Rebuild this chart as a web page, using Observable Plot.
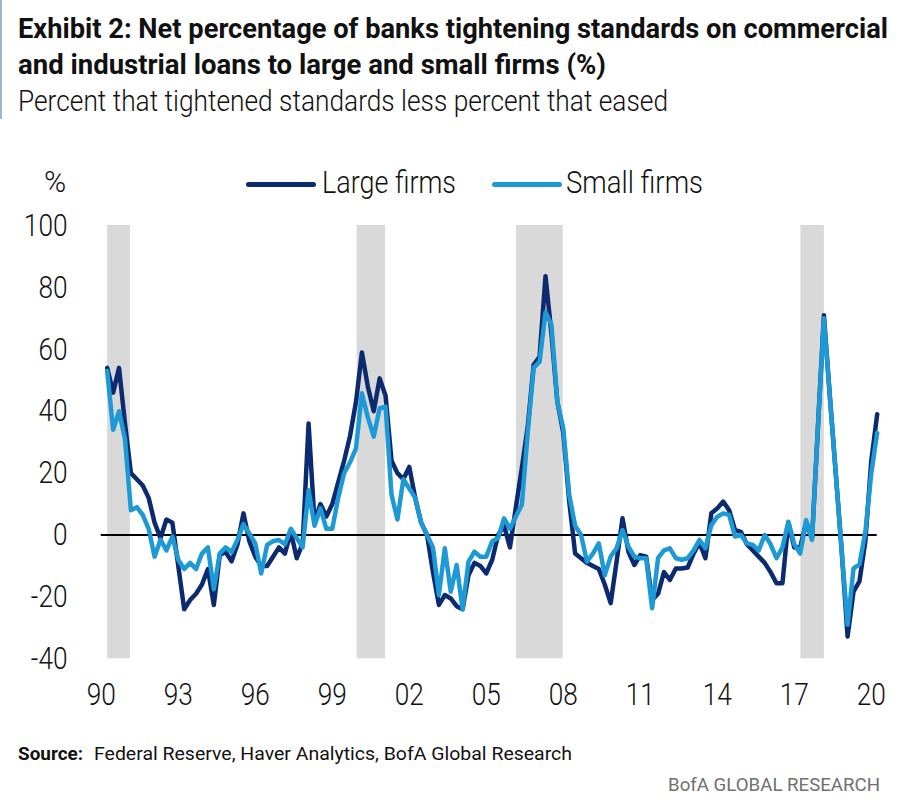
<!DOCTYPE html>
<html><head><meta charset="utf-8">
<script src="https://cdn.jsdelivr.net/npm/d3@7"></script>
<script src="https://cdn.jsdelivr.net/npm/@observablehq/plot@0.6"></script>
<style>
body{margin:0;background:#fff;width:906px;height:810px;position:relative;overflow:hidden;font-family:Roboto,"Liberation Sans",sans-serif;color:#111}
.t{position:absolute;white-space:nowrap;line-height:1;transform-origin:0 0}
#bar{position:absolute;left:0;top:0;width:2px;height:119px;background:#9fb3cf}
.lg{position:absolute;height:5px;border-radius:2.5px}
#chart{position:absolute;left:0;top:205px}
</style></head><body>
<div id="bar"></div>
<div class="t" data-w="870" style="left:18px;top:15px;font-size:28px;font-weight:700">Exhibit 2: Net percentage of banks tightening standards on commercial</div>
<div class="t" data-w="588" style="left:18px;top:51px;font-size:28px;font-weight:700">and industrial loans to large and small firms (%)</div>
<div class="t" data-w="650" style="left:18px;top:86px;font-size:30px;font-weight:300">Percent that tightened standards less percent that eased</div>
<div class="t" style="left:44px;top:167px;font-size:30px;font-weight:300">%</div>
<div class="lg" style="left:246px;top:182px;width:70px;background:#0c2a6f"></div>
<div class="t" data-w="134" style="left:322px;top:166px;font-size:32px;font-weight:300">Large firms</div>
<div class="lg" style="left:492px;top:182px;width:70px;background:#1d9ad6"></div>
<div class="t" data-w="137" style="left:566px;top:166px;font-size:32px;font-weight:300">Small firms</div>
<div id="chart"></div>
<div class="t" data-w="65" style="left:18px;top:744px;font-size:19px;font-weight:700">Source:</div>
<div class="t" data-w="478" style="left:94px;top:744px;font-size:19px;font-weight:400">Federal Reserve, Haver Analytics, BofA Global Research</div>
<div class="t" data-w="212" style="left:668px;top:775px;font-size:19px;font-weight:400;color:#707070">BofA GLOBAL RESEARCH</div>
<script>
// Quarterly data, 1990Q2 .. 2022Q4 (net % of banks tightening C&I standards)
const startQuarter = 1990.25;
const large = [54,46,54,36,20,18,16,12,4,-1,5,4,-10,-24,-21,-19,-16,-11,-22.6,-6.5,
-5.5,-8.5,-3,7,-2,-7,-10,-10,-7,-4,-6,1,-7.5,-2.7,36,4.3,10,6,10,17,
24,32,43,59,48,40,50.6,45,24,20,18,22,12,4,0,-12,-22.6,-19.4,-20.5,-23,
-24,-13,-9,-10,-12.4,-8,0,3,-4,9,21.5,35,55,57.6,83.6,65,43,33,11,-6,
-7.5,-9,-10,-11,-16,-22,-8.6,5.4,-5.4,-9.7,-6.5,-7,-21,-19,-12,-14.5,-10.8,-10.8,-10.5,-6,
-2.5,-7.5,7,8.6,10.8,8,1.6,1,-3,-5,-7,-9,-12,-15.6,-15.6,4,-4,-4,4,-1,
35,71,45,20,-5,-32.8,-18.3,-15,-2,24,39];
const small = [53,34,40,31,8,9,6.5,2,-7,-1.5,-5,-0.5,-8,-11,-9,-11,-6,-4,-17.5,-6,
-4,-5.5,-1.5,3.5,0.5,-2.7,-12.4,-3.2,-2,-1.6,-3,2,-1,-4,14.5,3,8.6,2,2,12,
20,23.5,28,45.8,38,31.8,41,41.5,13,5,18,15,12,4,0,-4,-19.4,-4.3,-18.3,-9.7,
-24,-8.6,-5.4,-7,-7,-2,-1,5.4,2,6,9.7,33,54,56,72,68,43,34.5,13,3,
0,-8.6,-6,-2.7,-13,-7,-4.3,1.6,-3.8,-7,-7.5,-7.5,-23.7,-7.5,-5,-4.3,-7.5,-8,-7.5,-5,
-1.6,-4.3,3.2,5.9,7,6.5,-0.5,0,-2.7,-3.2,-5,0,-3,-7.5,-4,4.3,-3,-6,4.8,-1.6,
35,70,45,20,-5,-29,-10.8,-9.5,1,20,33];
const recessionStart = [1990.27, 2000.8, 2007.53, 2019.53];
const recessionEnd   = [1991.23, 2002.0, 2009.5, 2020.52];
// category-style axis: a label every 13 quarters, starting at 1990Q1
const xTicks = [1990, 1993.25, 1996.5, 1999.75, 2003, 2006.25, 2009.5, 2012.75, 2016, 2019.25, 2022.5];
const xTickLabels = ["90","93","96","99","02","05","08","11","14","17","20"];
const yTicks = [-40,-20,0,20,40,60,80,100];
const yTickLabels = ["-40","-20","0","20","40","60","80","100"];

const largeData = large.map((v,i)=>({t:startQuarter + i/4, v}));
const smallData = small.map((v,i)=>({t:startQuarter + i/4, v}));
const recessions = recessionStart.map((s,i)=>({start:s, end:recessionEnd[i]}));

const chart = Plot.plot({
  width: 906, height: 505,
  marginLeft: 100, marginRight: 29, marginTop: 20, marginBottom: 51.7,
  x: {domain:[1990.25, 2022.75], range:[106.7, 876.7]},
  y: {domain:[-40, 100], range:[453.3, 20]},
  style: {fontFamily:"Roboto, sans-serif", fontWeight:300, fontSize:"32px", color:"#111", background:"#fff", overflow:"visible"},
  marks: [
    Plot.rect(recessions, {x1:"start", x2:"end", y1:-40, y2:100, fill:"#d9d9d9"}),
    Plot.ruleY([0], {x1:1990, x2:2022.75, stroke:"#000", strokeWidth:2}),
    Plot.line(largeData, {x:"t", y:"v", stroke:"#0c2a6f", strokeWidth:4.5}),
    Plot.line(smallData, {x:"t", y:"v", stroke:"#1d9ad6", strokeWidth:4.5}),
    Plot.axisX({ticks:xTicks, tickFormat:(d)=>xTickLabels[xTicks.indexOf(d)], tickSize:0, tickPadding:23, label:null, fontSize:32}),
    Plot.axisY({ticks:yTicks, tickFormat:(d)=>yTickLabels[yTicks.indexOf(d)], tickSize:0, tickPadding:33, label:null, anchor:"left", fontSize:32})
  ]
});
document.getElementById("chart").appendChild(chart);

function fitAll(){
  document.querySelectorAll(".t[data-w]").forEach(el=>{
    el.style.transform = "none";
    const w = el.getBoundingClientRect().width;
    el.style.transform = `scaleX(${(+el.dataset.w)/w})`;
  });
  chart.querySelectorAll("text").forEach(t=>{
    t.removeAttribute("textLength");
    const L = t.getComputedTextLength();
    t.setAttribute("textLength", (L*0.82).toFixed(2));
    t.setAttribute("lengthAdjust","spacingAndGlyphs");
  });
}
fitAll();
if (document.fonts && document.fonts.ready) document.fonts.ready.then(fitAll);
</script>
</body></html>
